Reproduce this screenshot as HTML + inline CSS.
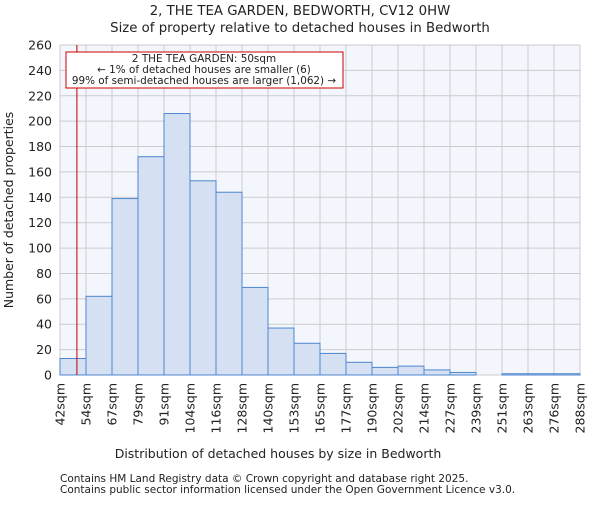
<!DOCTYPE html>
<html><head><meta charset="utf-8"><style>
body{margin:0;background:#fff;font-family:"Liberation Sans","DejaVu Sans",sans-serif}
svg text{font-family:"DejaVu Sans","Liberation Sans",sans-serif;fill:#222}
</style></head><body>
<svg id="c" width="600" height="500">
<text x="300" y="15" text-anchor="middle" font-size="13.3">2, THE TEA GARDEN, BEDWORTH, CV12 0HW</text>
<text x="300" y="32" text-anchor="middle" font-size="13.3">Size of property relative to detached houses in Bedworth</text>
<rect x="60" y="45" width="520" height="330" fill="#f3f6fd"/>
<g id="grid"></g><g id="bars"></g><g id="axes"></g>
<text x="278" y="458" text-anchor="middle" font-size="12.5">Distribution of detached houses by size in Bedworth</text>
<text transform="translate(13,210) rotate(-90)" text-anchor="middle" font-size="12.5">Number of detached properties</text>
<text x="60" y="482" font-size="10.5">Contains HM Land Registry data © Crown copyright and database right 2025.</text>
<text x="60" y="493" font-size="10.5">Contains public sector information licensed under the Open Government Licence v3.0.</text>
<line id="marker" y1="45" y2="375" stroke="#b00" stroke-width="1"/>
<rect x="66" y="52" width="277" height="36" fill="#fff" stroke="#c00"/>
<text x="204" y="62" text-anchor="middle" font-size="10.4">2 THE TEA GARDEN: 50sqm</text>
<text x="204" y="73" text-anchor="middle" font-size="10.4">← 1% of detached houses are smaller (6)</text>
<text x="204" y="84" text-anchor="middle" font-size="10.4">99% of semi-detached houses are larger (1,062) →</text>
</svg>
<script>
const categories=["42sqm","54sqm","67sqm","79sqm","91sqm","104sqm","116sqm","128sqm","140sqm","153sqm","165sqm","177sqm","190sqm","202sqm","214sqm","227sqm","239sqm","251sqm","263sqm","276sqm","288sqm"];
const counts=[13,62,139,172,206,153,144,69,37,25,17,10,6,7,4,2,0,1,1,1];
const yTicks=[0,20,40,60,80,100,120,140,160,180,200,220,240,260];
const markerValue=50;
const binStart=42, binEnd=288;
const NS="http://www.w3.org/2000/svg";
const X0=60,X1=580,Y0=375,Y1=45,YMAX=260;
const bw=(X1-X0)/counts.length;
const xs=i=>X0+i*bw;
const ys=v=>Y0-(v/YMAX)*(Y0-Y1);
function mk(t,a,p){const e=document.createElementNS(NS,t);for(const k in a)e.setAttribute(k,a[k]);p.appendChild(e);return e;}
const grid=document.getElementById('grid'),bars=document.getElementById('bars'),axes=document.getElementById('axes');
yTicks.forEach(v=>{
 const l=mk('line',{x1:X0,x2:X1,y1:ys(v),y2:ys(v),stroke:'#cccccc'},grid);
 
 
 const t=mk('text',{x:X0-8,y:ys(v)+4.5,'text-anchor':'end','font-size':'12.5'},axes);
 t.textContent=v;
 
 
});
categories.forEach((c,i)=>{
 const l=mk('line',{x1:xs(i),x2:xs(i),y1:Y1,y2:Y0,stroke:'#cccccc'},grid);
 
 
 const t=mk('text',{transform:`translate(${xs(i)+4.5},${Y0+8}) rotate(-90)`,'text-anchor':'end','font-size':'12.5'},axes);
 t.textContent=c;
 
 
});
counts.forEach((v,i)=>{
 if(v<=0)return;
 const r=mk('rect',{x:xs(i),y:ys(v),width:bw,height:Y0-ys(v),fill:'#d5e1f3',stroke:'#4f86cf','stroke-width':'1'},bars);
 
 
});
const firstBinW=(binEnd-binStart)/counts.length;
const mx=X0+(markerValue-binStart)/firstBinW*bw;
const m=document.getElementById('marker');m.setAttribute('x1',mx);m.setAttribute('x2',mx);
</script>
</body></html>
